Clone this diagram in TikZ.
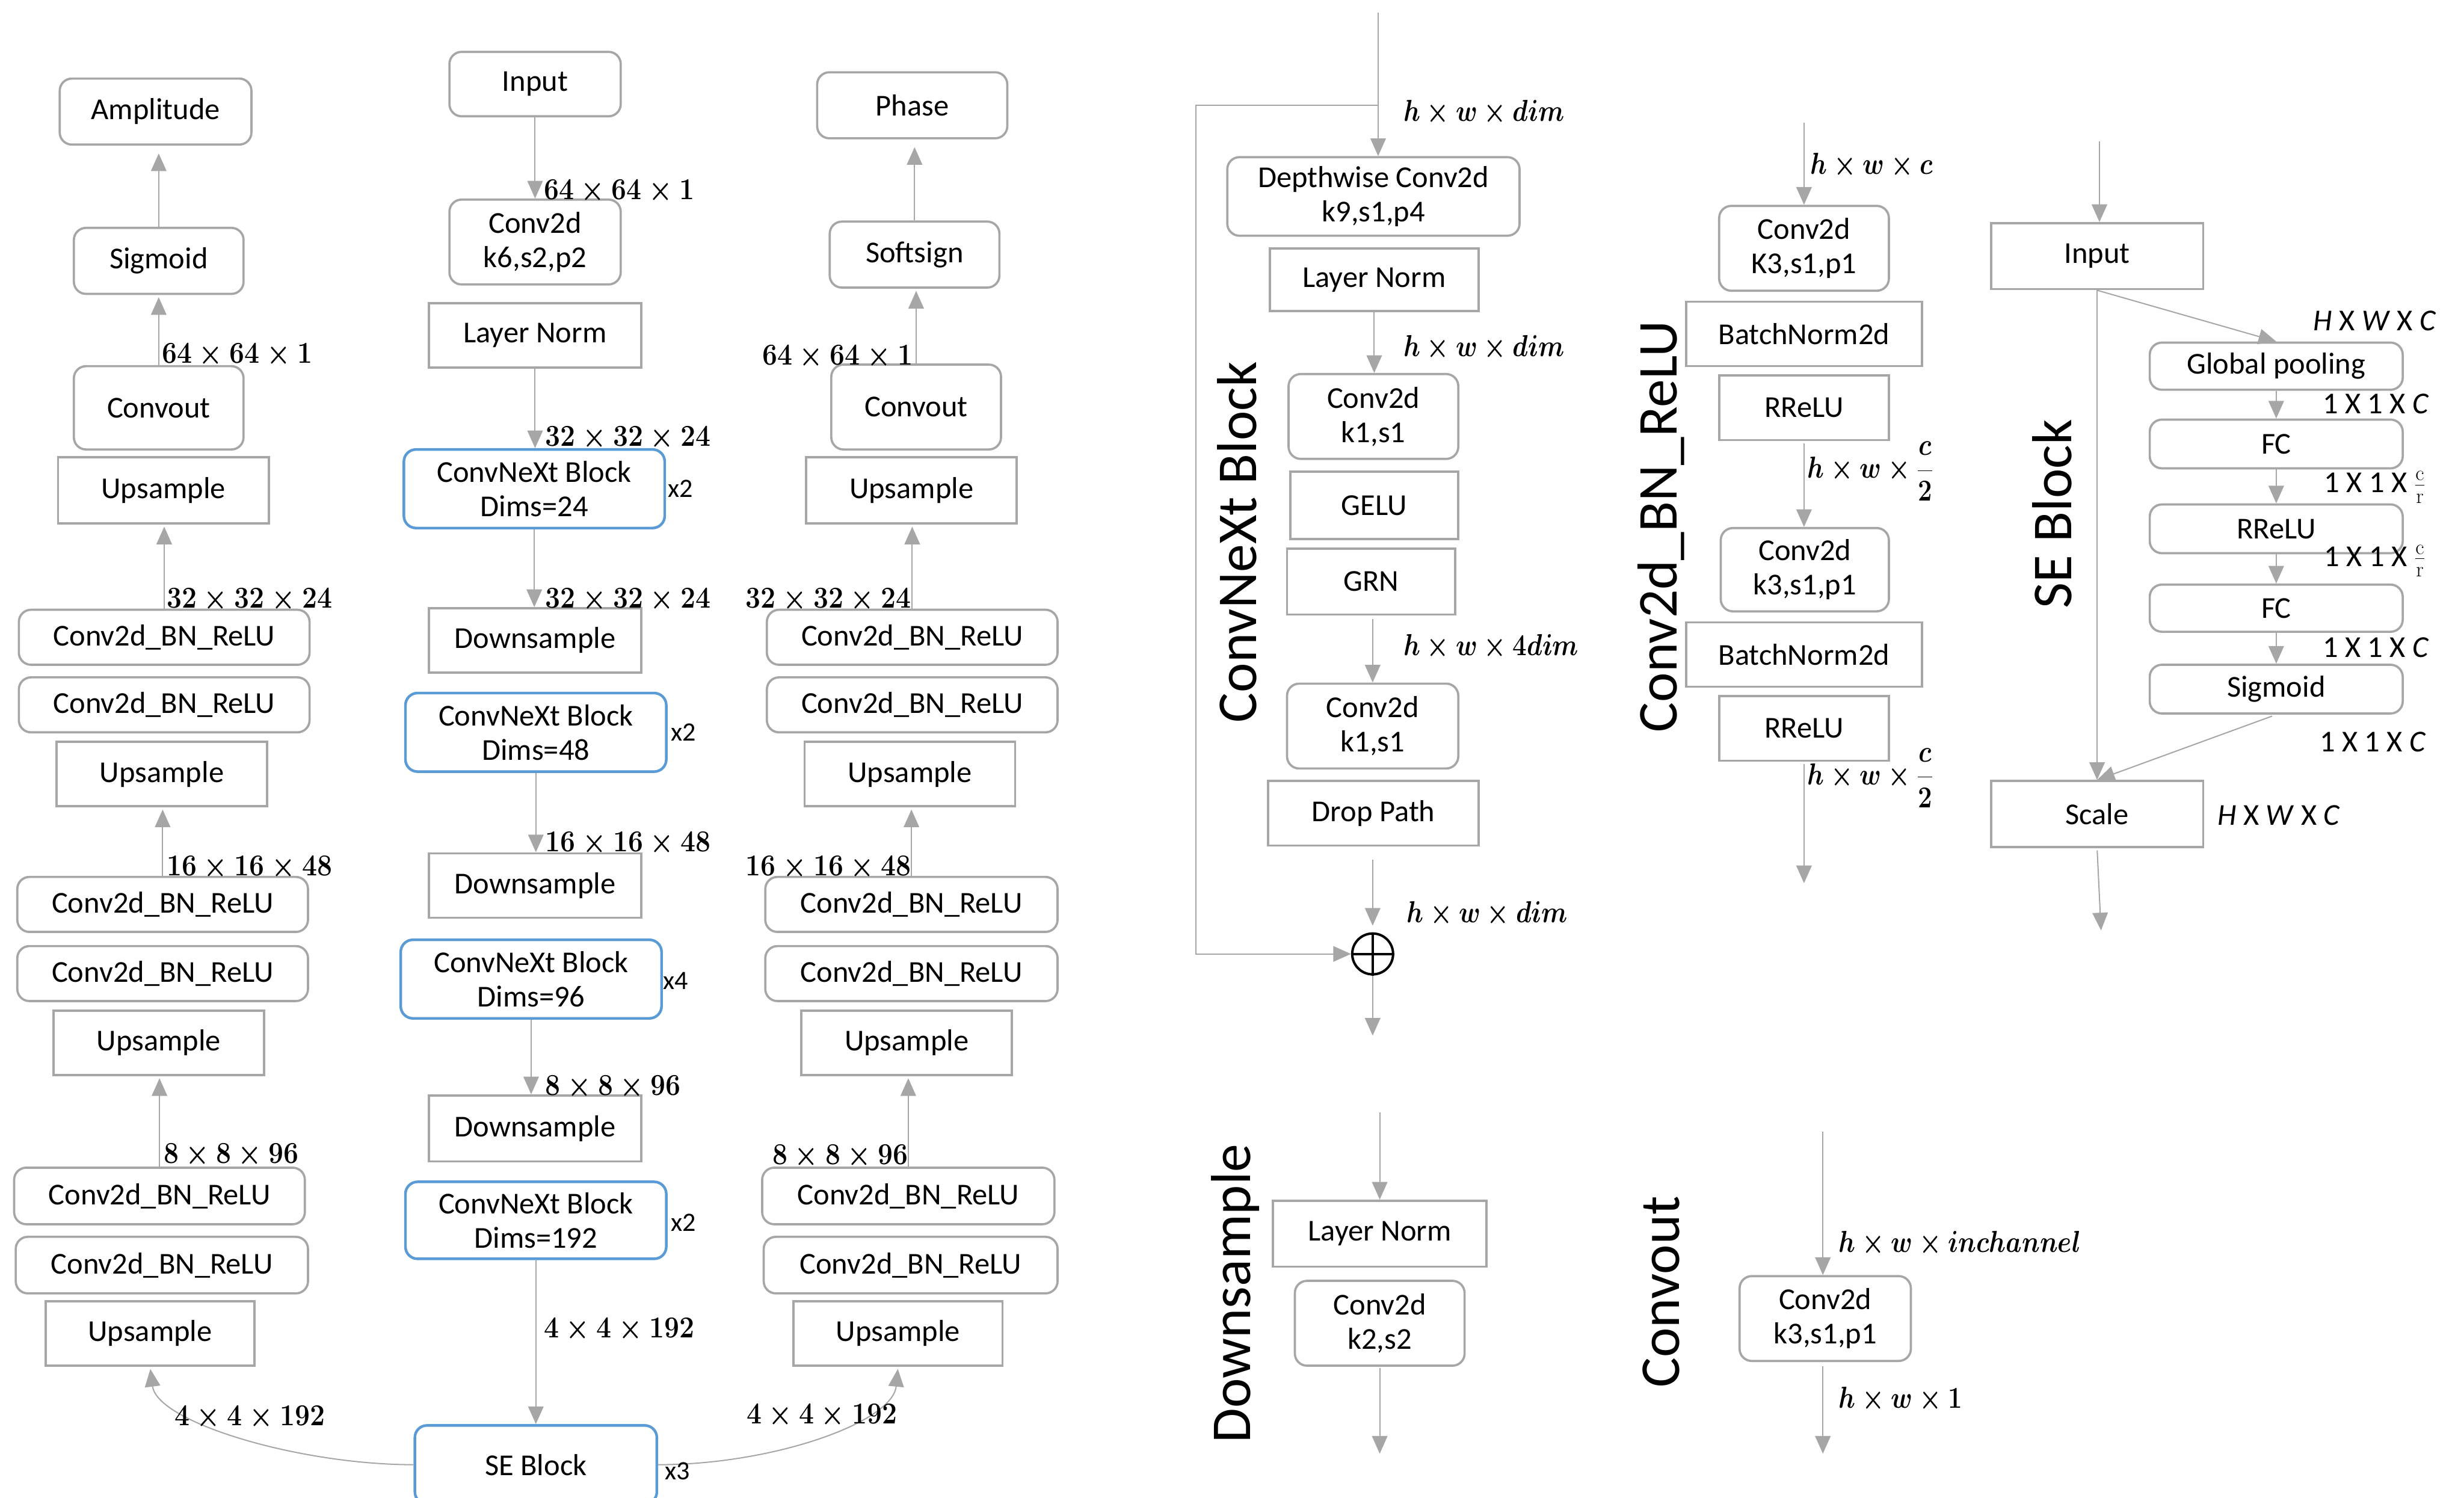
\RequirePackage{fix-cm}
\documentclass[tikz,border=0pt]{standalone}
\usepackage[no-math]{fontspec}
\setmainfont{Carlito}
\usetikzlibrary{arrows.meta}
\definecolor{lg}{HTML}{A6A6A6}
\definecolor{bl}{HTML}{5B9BD5}
\newcommand\fs{\fontsize{27.5pt}{31pt}\selectfont}
\newcommand\fx{\fontsize{24pt}{28pt}\selectfont}
\newcommand\ttl{\fontsize{51pt}{60pt}\selectfont}
\newcommand\mA[1]{\scalebox{0.88}[1]{$#1$}}
\newcommand\mB[1]{\scalebox{0.83}[1]{$#1$}}
\tikzset{
  basebox/.style={draw=lg, line width=2pt, align=center, inner sep=0pt, font=\fs, fill=white},
  rbox/.style={basebox, rounded corners=11pt},
  sbox/.style={basebox},
  bbox/.style={basebox, draw=bl, line width=2.4pt, rounded corners=11pt},
  sz/.style 2 args={minimum width=#1*0.05cm, minimum height=#2*0.05cm},
  conn/.style={draw=lg, line width=1.1pt, -{Triangle[length=16pt,width=14pt]}},
  lab/.style={font=\fs, inner sep=0pt},
  mlab/.style={font=\fs\boldmath, inner sep=0pt},
  rep/.style={font=\fx, inner sep=0pt, anchor=west},
  ttlnode/.style={font=\ttl, inner sep=0pt, rotate=90},
}
\begin{document}
\begin{tikzpicture}[x=0.05cm,y=-0.05cm]
\useasboundingbox (0,0) rectangle (1568,953);

% ---------------- left column (Amplitude) ----------------
\node[rbox, sz={122}{42}] (ampL) at (99,71) {Amplitude};
\node[rbox, sz={108}{42}] (sigL) at (101,166) {Sigmoid};
\node[rbox, sz={108}{53}] (coL) at (101,259.5) {Convout};
\node[sbox, sz={134}{42}] (upL1) at (104,312) {Upsample};
\node[rbox, sz={185}{35}] (cbL1) at (104.5,405.5) {Conv2d\_BN\_ReLU};
\node[rbox, sz={185}{35}] (cbL2) at (104.5,448.5) {Conv2d\_BN\_ReLU};
\node[sbox, sz={134}{41}] (upL2) at (103,492.5) {Upsample};
\node[rbox, sz={185}{35}] (cbL3) at (103.5,575.5) {Conv2d\_BN\_ReLU};
\node[rbox, sz={185}{35}] (cbL4) at (103.5,619.5) {Conv2d\_BN\_ReLU};
\node[sbox, sz={134}{41}] (upL3) at (101,663.5) {Upsample};
\node[rbox, sz={185}{36}] (cbL5) at (101.5,761) {Conv2d\_BN\_ReLU};
\node[rbox, sz={186}{36}] (cbL6) at (103,805) {Conv2d\_BN\_ReLU};
\node[sbox, sz={133}{41}] (upL4) at (95.5,848.5) {Upsample};

% ---------------- middle column (encoder) ----------------
\node[rbox, sz={109}{41}] (inp) at (340.5,53.5) {Input};
\node[rbox, sz={109}{54}] (cv0) at (340.5,154) {Conv2d\\k6,s2,p2};
\node[sbox, sz={135}{41}] (ln0) at (340.5,213.5) {Layer Norm};
\node[bbox, sz={166}{50}] (cx1) at (340,311) {ConvNeXt Block\\Dims=24};
\node[sbox, sz={135}{41}] (ds1) at (340.5,407.5) {Downsample};
\node[bbox, sz={166}{50}] (cx2) at (341,466) {ConvNeXt Block\\Dims=48};
\node[sbox, sz={135}{41}] (ds2) at (340.5,563.5) {Downsample};
\node[bbox, sz={166}{50}] (cx3) at (338,623) {ConvNeXt Block\\Dims=96};
\node[sbox, sz={135}{42}] (ds3) at (340.5,718) {Downsample};
\node[bbox, sz={166}{49}] (cx4) at (341,776.5) {ConvNeXt Block\\Dims=192};
\node[bbox, sz={154}{50}] (se) at (341,932) {SE Block};
\node[rep] (r1) at (425,311) {x2};
\node[rep] (r2) at (427,466) {x2};
\node[rep] (r3) at (422,624) {x4};
\node[rep] (r4) at (427,778) {x2};

% ---------------- right column (Phase) ----------------
\node[rbox, sz={121}{42}] (phR) at (580.5,67) {Phase};
\node[rbox, sz={108}{42}] (ssR) at (582,162) {Softsign};
\node[rbox, sz={108}{54}] (coR) at (583,259) {Convout};
\node[sbox, sz={134}{42}] (upR1) at (580,312) {Upsample};
\node[rbox, sz={185}{35}] (cbR1) at (580.5,405.5) {Conv2d\_BN\_ReLU};
\node[rbox, sz={185}{35}] (cbR2) at (580.5,448.5) {Conv2d\_BN\_ReLU};
\node[sbox, sz={134}{41}] (upR2) at (579,492.5) {Upsample};
\node[rbox, sz={186}{35}] (cbR3) at (580,575.5) {Conv2d\_BN\_ReLU};
\node[rbox, sz={186}{35}] (cbR4) at (580,619.5) {Conv2d\_BN\_ReLU};
\node[sbox, sz={134}{41}] (upR3) at (577,663.5) {Upsample};
\node[rbox, sz={186}{36}] (cbR5) at (578,761) {Conv2d\_BN\_ReLU};
\node[rbox, sz={187}{36}] (cbR6) at (579.5,805) {Conv2d\_BN\_ReLU};
\node[sbox, sz={133}{41}] (upR4) at (571.5,848.5) {Upsample};

% connectors left
\draw[conn, shorten >=7pt] (sigL.north) -- (sigL.north |- ampL.south);
\draw[conn, shorten >=2pt] (coL.north) -- (coL.north |- sigL.south);
\draw[conn, shorten >=2pt] (cbL1.north) -- (cbL1.north |- upL1.south);
\draw[conn, shorten >=2pt] (cbL3.north) -- (cbL3.north |- upL2.south);
\draw[conn, shorten >=2pt] (cbL5.north) -- (cbL5.north |- upL3.south);
\draw[conn, shorten >=2pt] (se.west) .. controls (190,932) and (100,905) .. (upL4.south);
% connectors middle
\draw[conn] (inp.south) -- (inp.south |- cv0.north);
\draw[conn] (ln0.south) -- (ln0.south |- cx1.north);
\draw[conn] (cx1.south) -- (cx1.south |- ds1.north);
\draw[conn] (cx2.south) -- (cx2.south |- ds2.north);
\draw[conn] (cx3.south) -- (cx3.south |- ds3.north);
\draw[conn] (cx4.south) -- (cx4.south |- se.north);
% connectors right
\draw[conn, shorten >=7pt] (ssR.north) -- (ssR.north |- phR.south);
\draw[conn, shorten >=2pt] (coR.north) -- (coR.north |- ssR.south);
\draw[conn, shorten >=2pt] (cbR1.north) -- (cbR1.north |- upR1.south);
\draw[conn, shorten >=2pt] (cbR3.north) -- (cbR3.north |- upR2.south);
\draw[conn, shorten >=2pt] (cbR5.north) -- (cbR5.north |- upR3.south);
\draw[conn, shorten >=2pt] (se.east) .. controls (492,932) and (568,905) .. (upR4.south);

\node[rep] (r5) at (423,936) {x3};

% size labels
\node[mlab, anchor=base west] (l1) at (103,231) {\mA{64\times64\times1}};
\node[mlab, anchor=base west] (l2) at (106,387) {\mA{32\times32\times24}};
\node[mlab, anchor=base west] (l3) at (106,557) {\mA{16\times16\times48}};
\node[mlab, anchor=base west] (l4) at (104,740) {\mA{8\times8\times96}};
\node[mlab, anchor=base west] (l5) at (111,907) {\mA{4\times4\times192}};
\node[mlab, anchor=base west] (m1) at (346,127) {\mA{64\times64\times1}};
\node[mlab, anchor=base west] (m2) at (347,284) {\mA{32\times32\times24}};
\node[mlab, anchor=base west] (m3) at (347,387) {\mA{32\times32\times24}};
\node[mlab, anchor=base west] (m4) at (347,542) {\mA{16\times16\times48}};
\node[mlab, anchor=base west] (m5) at (347,697) {\mA{8\times8\times96}};
\node[mlab, anchor=base west] (m6) at (346,851) {\mA{4\times4\times192}};
\node[mlab, anchor=base east] (p1) at (581,232) {\mA{64\times64\times1}};
\node[mlab, anchor=base east] (p2) at (580,387) {\mA{32\times32\times24}};
\node[mlab, anchor=base east] (p3) at (580,557) {\mA{16\times16\times48}};
\node[mlab, anchor=base east] (p4) at (578,741) {\mA{8\times8\times96}};
\node[mlab, anchor=base west] (p5) at (475,906) {\mA{4\times4\times192}};

% ---------------- ConvNeXt Block detail ----------------
\node[ttlnode] (tcnx) at (787,345) {ConvNeXt Block};
\node[rbox, sz={186}{50}] (dw) at (874,125) {Depthwise Conv2d\\k9,s1,p4};
\node[sbox, sz={133}{40}] (ln1) at (874.5,178) {Layer Norm};
\node[rbox, sz={108}{54}] (c1) at (874,265) {Conv2d\\k1,s1};
\node[sbox, sz={107}{43}] (gelu) at (874.5,321.5) {GELU};
\node[sbox, sz={107}{42}] (grn) at (872.5,370) {GRN};
\node[rbox, sz={109}{54}] (c2) at (873.5,462) {Conv2d\\k1,s1};
\node[sbox, sz={134}{41}] (dp) at (874,517.5) {Drop Path};
\node[circle, draw=black, line width=2.2pt, minimum size=26*0.05cm, inner sep=0pt] (plus) at (873.5,607) {};
\draw[black, line width=2.2pt] (plus.north) -- (plus.south) (plus.west) -- (plus.east);
\coordinate (cnin) at (877,8);
\coordinate (br) at (877,67);
\coordinate (sk1) at (761,67);
\coordinate (sk2) at (761,607);
\coordinate (cnout) at (873.5,659);
\draw[conn] (cnin) -- (cnin |- dw.north);
\draw[conn] (br) -- (sk1) -- (sk2) -- (plus.west);
\draw[conn] (ln1.south) -- (ln1.south |- c1.north);
\draw[conn, shorten <=3pt] (grn.south -| c2.north) -- (c2.north);
\draw[conn, shorten <=12pt, shorten >=6pt] (dp.south -| plus.north) -- (plus.north);
\draw[conn] (plus.south) -- (cnout);
\node[mlab, anchor=base west] (h1) at (893,77) {\mB{h\times w\times dim}};
\node[mlab, anchor=base west] (h2) at (893,227) {\mB{h\times w\times dim}};
\node[mlab, anchor=base west] (h3) at (893,417) {\mB{h\times w\times 4dim}};
\node[mlab, anchor=base west] (h4) at (895,587) {\mB{h\times w\times dim}};

% ---------------- Conv2d_BN_ReLU detail ----------------
\node[ttlnode] (tcbr) at (1057,335) {Conv2d\_BN\_ReLU};
\node[rbox, sz={108}{54}] (k1) at (1148,158) {Conv2d\\K3,s1,p1};
\node[sbox, sz={150}{41}] (bn1) at (1148,212.5) {BatchNorm2d};
\node[sbox, sz={108}{41}] (rr1) at (1148,259.5) {RReLU};
\node[rbox, sz={107}{53}] (k2) at (1148.5,362.5) {Conv2d\\k3,s1,p1};
\node[sbox, sz={150}{41}] (bn2) at (1148,416.5) {BatchNorm2d};
\node[sbox, sz={108}{41}] (rr2) at (1148,463.5) {RReLU};
\coordinate (cbin) at (1148,78);
\coordinate (cbout) at (1148,562);
\draw[conn] (cbin) -- (k1.north);
\draw[conn, shorten <=2pt] (rr1.south) -- (rr1.south |- k2.north);
\draw[conn, shorten <=2pt] (rr2.south) -- (cbout);
\node[mlab, anchor=base west] (q1) at (1152,111) {\mB{h\times w\times c}};
\node[mlab, anchor=west] (q2) at (1150,300) {\mB{h\times w\times {\displaystyle\frac{c}{2}}}};
\node[mlab, anchor=west] (q3) at (1150,495) {\mB{h\times w\times {\displaystyle\frac{c}{2}}}};

% ---------------- SE Block detail ----------------
\node[ttlnode] (tse) at (1306,327) {SE Block};
\node[sbox, sz={135}{42}] (sin) at (1334.5,163) {Input};
\node[rbox, sz={161}{30}] (gp) at (1448.5,233) {Global pooling};
\node[rbox, sz={161}{31}] (fc1) at (1448.5,282.5) {FC};
\node[rbox, sz={161}{31}] (rr) at (1448.5,336.5) {RReLU};
\node[rbox, sz={161}{30}] (fc2) at (1448.5,387) {FC};
\node[rbox, sz={161}{31}] (sg) at (1448.5,438.5) {Sigmoid};
\node[sbox, sz={135}{42}] (sc) at (1334.5,518) {Scale};
\coordinate (sein) at (1336,90);
\coordinate (seout) at (1337,592);
\draw[conn] (sein) -- (sein |- sin.north);
\draw[conn] (sin.south) -- (gp.north);
\draw[conn] (sin.south) -- (sc.north);
\draw[conn] (gp.south) -- (fc1.north);
\draw[conn] (fc1.south) -- (rr.north);
\draw[conn] (rr.south) -- (fc2.north);
\draw[conn] (fc2.south) -- (sg.north);
\draw[conn, shorten <=4pt] (sg.south) -- (sc.north);
\draw[conn, shorten <=2pt] (sc.south) -- (seout);
\node[lab, anchor=west] (s1) at (1472,204) {\textit{H} X \textit{W} X \textit{C}};
\node[lab, anchor=west] (s2) at (1478,257) {1 X 1 X \textit{C}};
\node[lab, anchor=west] (s3) at (1479,310) {1 X 1 X $\frac{\mathrm{c}}{\mathrm{r}}$};
\node[lab, anchor=west] (s4) at (1479,357) {1 X 1 X $\frac{\mathrm{c}}{\mathrm{r}}$};
\node[lab, anchor=west] (s5) at (1478,412) {1 X 1 X \textit{C}};
\node[lab, anchor=west] (s6) at (1476,472) {1 X 1 X \textit{C}};
\node[lab, anchor=west] (s7) at (1411,519) {\textit{H} X \textit{W} X \textit{C}};

% ---------------- Downsample detail ----------------
\node[ttlnode] (tds) at (786,823) {Downsample};
\node[sbox, sz={136}{42}] (dln) at (878,785) {Layer Norm};
\node[rbox, sz={108}{54}] (dcv) at (878,842) {Conv2d\\k2,s2};
\coordinate (dsin) at (878,708);
\coordinate (dsout) at (878,925);
\draw[conn] (dsin) -- (dln.north);
\draw[conn, shorten <=1pt] (dcv.south) -- (dsout);

% ---------------- Convout detail ----------------
\node[ttlnode] (tco) at (1057,822) {Convout};
\node[rbox, sz={109}{54}] (ccv) at (1161.5,839) {Conv2d\\k3,s1,p1};
\coordinate (coin) at (1160,720);
\coordinate (coout) at (1160,925);
\draw[conn] (coin) -- (coin |- ccv.north);
\draw[conn, shorten <=4pt] (ccv.south -| coout) -- (coout);
\node[mlab, anchor=base west] (o1) at (1170,797) {\mB{h\times w\times inchannel}};
\node[mlab, anchor=base west] (o2) at (1170,896) {\mB{h\times w\times 1}};
\end{tikzpicture}
\end{document}
